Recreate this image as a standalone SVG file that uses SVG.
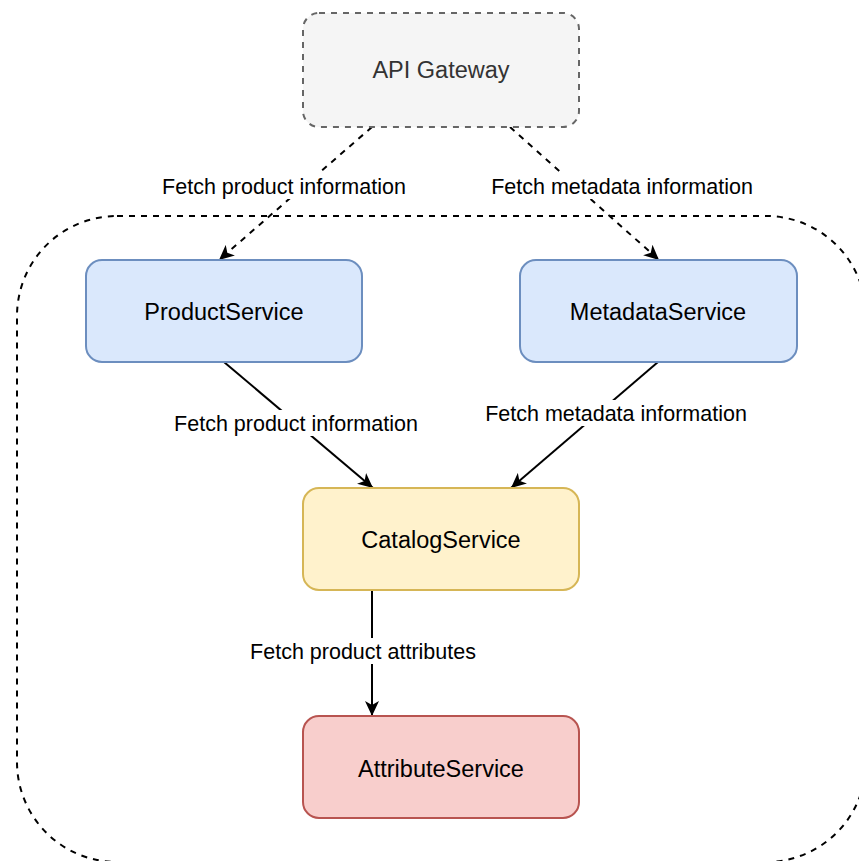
<svg xmlns="http://www.w3.org/2000/svg" width="859" height="861" viewBox="0 0 859 861">
<style>
.node{stroke-width:2}
.nt{font-family:"Liberation Sans",Arial,sans-serif;font-size:23.5px;text-anchor:middle;fill:#000}
.lt{font-family:"Liberation Sans",Arial,sans-serif;font-size:21.5px;text-anchor:middle;fill:#000}
.edge{fill:none;stroke:#000;stroke-width:2}
.dash{stroke-dasharray:6 6}
.lbg{fill:#fff}
</style>
<defs>
<marker id="arr" markerUnits="userSpaceOnUse" markerWidth="16" markerHeight="16" refX="15" refY="7" orient="auto" viewBox="0 0 16 14">
<path d="M0,0 L15,7 L0,14 L4,7 Z" fill="#000"/>
</marker>
</defs>
<rect width="859" height="861" fill="#fff"/>
<g id="container">
<rect x="17" y="216" width="849" height="646" rx="100" ry="100" fill="none" stroke="#000" stroke-width="2" stroke-dasharray="6 6"/>
</g>
<g id="connectors">
<line class="edge dash" x1="372" y1="127" x2="219" y2="260" marker-end="url(#arr)"/>
<line class="edge dash" x1="510" y1="127" x2="659" y2="260" marker-end="url(#arr)"/>
<line class="edge" x1="224" y1="362" x2="373" y2="488" marker-end="url(#arr)"/>
<line class="edge" x1="658" y1="362" x2="511" y2="488" marker-end="url(#arr)"/>
<line class="edge" x1="372" y1="590" x2="372" y2="716" marker-end="url(#arr)"/>
<rect class="lbg" x="159" y="173" width="250" height="26"/>
<text class="lt" x="284" y="193.5">Fetch product information</text>
<rect class="lbg" x="488" y="173" width="268" height="26"/>
<text class="lt" x="622" y="193.5">Fetch metadata information</text>
<rect class="lbg" x="171" y="410" width="250" height="26"/>
<text class="lt" x="296" y="430.5">Fetch product information</text>
<rect class="lbg" x="482" y="400" width="268" height="26"/>
<text class="lt" x="616" y="420.5">Fetch metadata information</text>
<rect class="lbg" x="247" y="638" width="232" height="26"/>
<text class="lt" x="363" y="658.5">Fetch product attributes</text>
</g>
<g id="api-gateway">
<rect class="node" x="303" y="13" width="276" height="114" rx="16" fill="#f5f5f5" stroke="#666" stroke-dasharray="6 6"/>
<text class="nt" x="441" y="77.5" style="fill:#333">API Gateway</text>
</g>
<g id="product-service">
<rect class="node" x="86" y="260" width="276" height="102" rx="16" fill="#dae8fc" stroke="#6c8ebf"/>
<text class="nt" x="224" y="319.5">ProductService</text>
</g>
<g id="metadata-service">
<rect class="node" x="520" y="260" width="277" height="102" rx="16" fill="#dae8fc" stroke="#6c8ebf"/>
<text class="nt" x="658" y="319.5">MetadataService</text>
</g>
<g id="catalog-service">
<rect class="node" x="303" y="488" width="276" height="102" rx="16" fill="#fff2cc" stroke="#d6b656"/>
<text class="nt" x="441" y="547.5">CatalogService</text>
</g>
<g id="attribute-service">
<rect class="node" x="303" y="716" width="276" height="102" rx="16" fill="#f8cecc" stroke="#b85450"/>
<text class="nt" x="441" y="776.5">AttributeService</text>
</g>
</svg>
